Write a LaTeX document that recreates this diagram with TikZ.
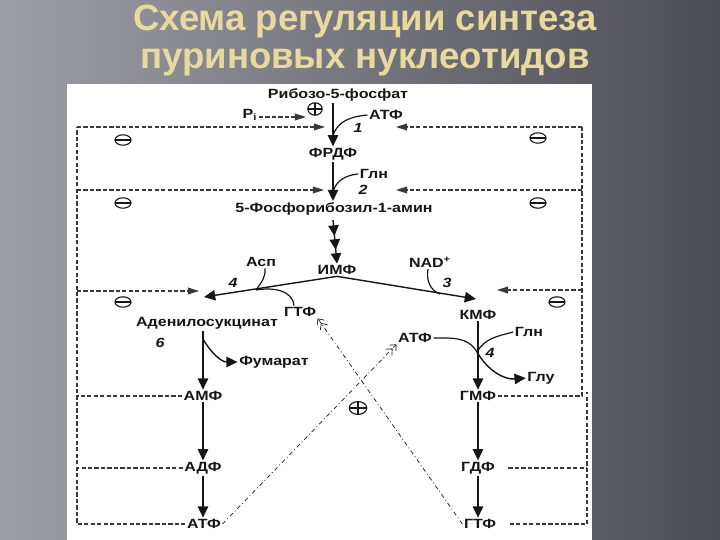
\documentclass[tikz,border=0pt]{standalone}
\usepackage{fontspec}
\setmainfont{Liberation Sans}
\newfontfamily\labfont[FakeStretch=1.2]{Liberation Sans}
\usetikzlibrary{arrows.meta, shapes.geometric}
\definecolor{titlegold}{RGB}{232,218,158}
\definecolor{bgleft}{RGB}{158,158,166}
\definecolor{bgright}{RGB}{76,76,84}
\definecolor{ink}{RGB}{22,22,22}

\begin{document}
\begin{tikzpicture}[x=0.25mm, y=-0.25mm,
  title/.style={font=\fontsize{26}{28}\selectfont\bfseries, text=titlegold, inner sep=0pt},
  lab/.style={font=\labfont\bfseries\fontsize{9.5}{10}\selectfont, text=ink, inner sep=1pt},
  num/.style={font=\labfont\bfseries\itshape\fontsize{9.5}{10}\selectfont, text=ink, inner sep=1pt},
  arr/.style={-{Triangle[length=2.8mm,width=2.6mm]}, line width=1pt, draw=ink},
  triarr/.style={-{Triangle[length=2.6mm,width=2.6mm,sep=0.9mm]Triangle[length=2.6mm,width=2.6mm,sep=0.9mm]Triangle[length=2.6mm,width=2.6mm]},
                 line width=1pt, draw=ink},
  link/.style={line width=0.85pt, draw=ink},
  fb/.style={dash pattern=on 3pt off 1.6pt, line width=0.85pt, draw=ink!85},
  fbarr/.style={fb, -{Triangle[length=2.8mm,width=1.7mm]}},
  crossarr/.style={dash pattern=on 3pt off 2pt on 0.6pt off 2pt, line width=0.5pt, draw=ink,
                   -{Straight Barb[length=1.2mm,width=2.2mm]Straight Barb[length=1.2mm,width=2.2mm]}},
  minus/.style={ellipse, draw=ink, line width=0.8pt, minimum width=4mm, minimum height=2.6mm, inner sep=0pt,
                path picture={\draw[line width=0.8pt] (path picture bounding box.west) -- (path picture bounding box.east);}},
  plus/.style={minus, path picture={\draw[line width=0.8pt] (path picture bounding box.west) -- (path picture bounding box.east)
                (path picture bounding box.north) -- (path picture bounding box.south);}}
]
  \useasboundingbox (0,0) rectangle (720,540);
  \shade[left color=bgleft, right color=bgright] (0,0) rectangle (720,540);
  \fill[white] (67,84) rectangle (592,541);

  \node[title] (head1) at (365,22) {Схема регуляции синтеза};
  \node[title] (head2) at (365,62) {пуриновых нуклеотидов};

  \node[lab] (rib) at (338,95) {Рибозо-5-фосфат};
  \node[lab] (pi) at (250,115) {P\textsubscript{i}};
  \node[plus, minimum width=3.6mm, minimum height=3.1mm] (p1) at (315,109) {};
  \node[lab] (atf1) at (386,115) {АТФ};
  \node[num] (n1) at (358,128) {1};
  \node[lab] (frdf) at (333,154) {ФРДФ};
  \node[lab] (gln1) at (374,174) {Глн};
  \node[num] (n2) at (363,190) {2};
  \node[lab] (fra) at (334,209) {5-Фосфорибозил-1-амин};
  \node[lab] (imf) at (337,270) {ИМФ};
  \node[lab] (asp) at (261,262) {Асп};
  \node[num] (n4a) at (233,283) {4};
  \node[lab] (gtf1) at (300,312) {ГТФ};
  \node[lab] (nad) at (430,262) {NAD\textsuperscript{+}};
  \node[num] (n3) at (447,283) {3};
  \node[lab] (kmf) at (478,315) {КМФ};
  \node[lab] (ads) at (207,323) {Аденилосукцинат};
  \node[num] (n6) at (160,343) {6};
  \node[lab] (fum) at (274,362) {Фумарат};
  \node[lab] (amf) at (203,396) {АМФ};
  \node[lab] (atf2) at (415,338) {АТФ};
  \node[lab] (gln2) at (529,332) {Глн};
  \node[num] (n4b) at (490,353) {4};
  \node[lab] (glu) at (541,378) {Глу};
  \node[lab] (gmf) at (478,396) {ГМФ};
  \node[lab] (adf) at (203,468) {АДФ};
  \node[lab] (atf3) at (204,524) {АТФ};
  \node[lab] (gdf) at (478,468) {ГДФ};
  \node[lab] (gtf2) at (480,524) {ГТФ};
  \node[plus, minimum width=4.4mm, minimum height=3.2mm] (p2) at (358,408) {};

  \node[minus] (m1l) at (123,140) {};
  \node[minus] (m2l) at (123,203) {};
  \node[minus] (m3l) at (123,302) {};
  \node[minus] (m1r) at (538,138) {};
  \node[minus] (m2r) at (538,203) {};
  \node[minus] (m3r) at (557,302) {};

  \coordinate (j1) at (333,136);
  \coordinate (j2) at (333,192);
  \coordinate (j3) at (256,290);
  \coordinate (j4) at (440,294);
  \coordinate (j5) at (203,339);
  \coordinate (j6) at (477,352);
  \coordinate (adstip) at (204,297);
  \coordinate (kmftip) at (476,299);
  \coordinate (pitip) at (306,117);
  \coordinate (t1l) at (325,127);
  \coordinate (t1r) at (396,127);
  \coordinate (t2l) at (324,190);
  \coordinate (t2r) at (396,190);
  \coordinate (t3l) at (199,291);
  \coordinate (t3r) at (497,290);
  \coordinate (lb) at (77,524);
  \coordinate (ltop) at (77,127);
  \coordinate (rtop) at (582,127);
  \coordinate (rb2) at (587,524);

  \draw[arr] (frdf |- rib.south) -- (frdf.north);
  \draw[arr] (frdf.south) -- (frdf |- fra.north);
  \draw[triarr] (frdf |- fra.south) ++(0,3) -- (imf.north);
  \draw[arr] (imf.south) -- (adstip);
  \draw[arr] (imf.south) -- (kmftip);
  \draw[arr] (amf |- ads.south) -- (amf.north);
  \draw[arr] (kmf.south) -- (kmf |- gmf.north);
  \draw[arr] (amf.south) -- (adf.north);
  \draw[arr] (adf.south) -- (adf |- atf3.north);
  \draw[arr] (gmf.south) -- (gmf |- gdf.north);
  \draw[arr] (gmf |- gdf.south) -- (gmf |- gtf2.north);

  \draw[link] (atf1.west) to[out=185,in=75] (j1);
  \draw[link] (gln1.west) to[out=185,in=75] (j2);
  \draw[link] ([xshift=1mm]asp.south) to[out=-85,in=55] (j3);
  \draw[link] (j3) to[out=10,in=95] ([xshift=-1.5mm]gtf1.north);
  \draw[link] ([xshift=-0.5mm]nad.south) to[out=-100,in=160] (j4);
  \draw[arr] (j5) to[out=-60,in=180] (fum.west);
  \draw[link] (atf2.east) to[out=0,in=120] (j6);
  \draw[arr] (j6) to[out=-60,in=185] (glu.west);
  \draw[link] (gln2.west) to[out=195,in=60] (j6);

  \draw[fbarr] (pi.east |- pitip) -- (pitip);
  \draw[fb] (atf3.west) -- (lb) -- (ltop);
  \draw[fbarr] (ltop) -- (t1l);
  \draw[fbarr] (lb |- t2l) -- (t2l);
  \draw[fbarr] (lb |- t3l) -- (t3l);
  \draw[fb] (amf.west) -- (amf.west -| lb);
  \draw[fb] (adf.west) -- (adf.west -| lb);
  \draw[fb] (gmf.east) -- (gmf.east -| rtop) -- (rtop);
  \draw[fbarr] (rtop) -- (t1r);
  \draw[fbarr] (rtop |- t2r) -- (t2r);
  \draw[fbarr] (rtop |- t3r) -- (t3r);
  \draw[fb, shorten <=3mm] (gtf2.east) -- (rb2) -- ([yshift=1mm]rb2 |- gmf.east);
  \draw[fb, shorten <=3mm] (gdf.east) -- (gdf.east -| rb2);

  \draw[crossarr] (atf3.east) -- (atf2.south west);
  \draw[crossarr] (gtf2.west) -- (gtf1.south east);
\end{tikzpicture}
\end{document}
